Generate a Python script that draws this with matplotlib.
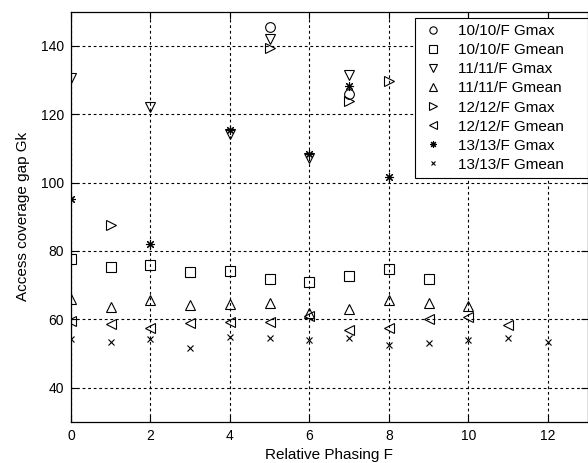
import matplotlib
matplotlib.use("Agg")
import matplotlib.pyplot as plt

plt.rcParams['font.family'] = ['Liberation Sans', 'DejaVu Sans']

# Relative phasing F and access coverage gaps for each constellation
f_10_max = [5, 7]
g_10_max = [145.4, 125.9]

f_10_mean = [0, 1, 2, 3, 4, 5, 6, 7, 8, 9]
g_10_mean = [77.6, 75.4, 75.8, 73.7, 74.0, 71.9, 70.9, 72.6, 74.7, 71.9]

f_11_max = [0, 2, 4, 5, 6, 7]
g_11_max = [130.7, 122.0, 114.2, 142.0, 107.3, 131.5]

f_11_mean = [0, 1, 2, 3, 4, 5, 6, 7, 8, 9, 10]
g_11_mean = [66.0, 63.7, 65.6, 64.1, 64.4, 64.8, 61.8, 63.1, 65.6, 64.8, 63.9]

f_12_max = [1, 5, 7, 8]
g_12_max = [87.6, 139.5, 123.9, 129.8]

f_12_mean = [0, 1, 2, 3, 4, 5, 6, 7, 8, 9, 10, 11]
g_12_mean = [59.5, 58.6, 57.4, 58.9, 59.3, 59.3, 61.0, 56.8, 57.4, 60.0, 60.7, 58.3]

f_13_max = [0, 2, 4, 6, 7, 8]
g_13_max = [95.2, 82.1, 115.3, 108.3, 128.3, 101.5]

f_13_mean = [0, 1, 2, 3, 4, 5, 6, 7, 8, 9, 10, 11, 12]
g_13_mean = [54.2, 53.2, 54.2, 51.5, 54.8, 54.5, 53.9, 54.5, 52.5, 52.9, 54.0, 54.6, 53.4]

fig = plt.figure(figsize=(5.88, 4.63), dpi=100)
ax = fig.add_axes([71 / 588, 41.3 / 463, 516.5 / 588, 410 / 463])

style = dict(linestyle='none', color='black', markerfacecolor='none',
             markeredgewidth=0.8)
ax.plot(f_10_max, g_10_max, marker='o', markersize=7, label='10/10/F Gmax', **style)
ax.plot(f_10_mean, g_10_mean, marker='s', markersize=7, label='10/10/F Gmean', **style)
ax.plot(f_11_max, g_11_max, marker='v', markersize=7.5, label='11/11/F Gmax', **style)
ax.plot(f_11_mean, g_11_mean, marker='^', markersize=7.5, label='11/11/F Gmean', **style)
ax.plot(f_12_max, g_12_max, marker='>', markersize=7.5, label='12/12/F Gmax', **style)
ax.plot(f_12_mean, g_12_mean, marker='<', markersize=7.5, label='12/12/F Gmean', **style)
ax.plot(f_13_max, g_13_max, marker=(8, 2, 0), markersize=6.5, label='13/13/F Gmax', **style)
ax.plot(f_13_mean, g_13_mean, marker='x', markersize=4.5, label='13/13/F Gmean', **style)

ax.set_xlim(0, 13)
ax.set_ylim(30, 150)
ax.set_xticks(range(0, 13, 2))
ax.set_yticks(range(40, 150, 20))
ax.grid(True, color='black', linestyle=(0, (2.5, 2.5)), linewidth=0.8)
ax.set_axisbelow(True)
ax.tick_params(direction='in', top=True, right=True, length=5, width=0.8,
               labelsize=10, pad=5)
for s in ax.spines.values():
    s.set_linewidth(0.9)

ax.set_xlabel('Relative Phasing F', fontsize=11, labelpad=3.5)
ax.set_ylabel('Access coverage gap Gk', fontsize=11, labelpad=7.5)

# legend box stretched across the upper right corner, entries left aligned
leg = ax.legend(loc='upper left', bbox_to_anchor=(0.666, 0.5, 0.334, 0.484),
                mode='expand', fontsize=11,
                frameon=True, fancybox=False, edgecolor='black',
                markerscale=0.75, handlelength=1.55, handletextpad=0.86,
                labelspacing=0.33, borderpad=0.4, borderaxespad=0)
leg.get_frame().set_linewidth(0.8)
leg.get_frame().set_alpha(1)

fig.savefig('out.png', dpi=100)
